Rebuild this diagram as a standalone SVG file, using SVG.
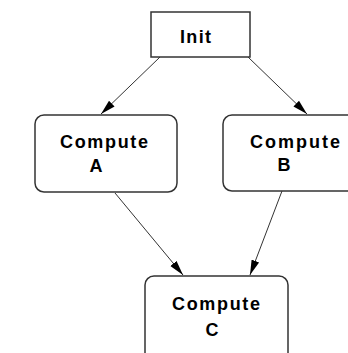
<svg xmlns="http://www.w3.org/2000/svg" width="348" height="353" viewBox="0 0 348 353">
<style>
.box{fill:#fff;stroke:#333;stroke-width:1.5}
.lbl{font-family:"Liberation Sans",Arial,sans-serif;font-weight:bold;font-size:18px;fill:#000}
.edge{stroke:#333;stroke-width:1;fill:none;marker-end:url(#ah)}
</style>
<defs>
<marker id="ah" markerUnits="userSpaceOnUse" markerWidth="15" markerHeight="10" viewBox="0 0 15 10" refX="15" refY="5" orient="auto">
<path d="M0,1 L15,5 L0,9 Z" fill="#000"/>
</marker>
</defs>
<rect width="348" height="353" fill="#fff"/>
<g id="connectors">
<line class="edge" x1="160" y1="57" x2="101" y2="114"/>
<line class="edge" x1="248" y1="57" x2="307" y2="114"/>
<line class="edge" x1="115" y1="193" x2="183" y2="275"/>
<line class="edge" x1="282" y1="191" x2="250" y2="275"/>
</g>
<g id="init">
<rect class="box" x="151" y="12" width="99" height="45"/>
<text class="lbl" x="180" y="43" textLength="31" lengthAdjust="spacing">Init</text>
</g>
<g id="computeA">
<rect class="box" x="35" y="115" width="142" height="77" rx="9"/>
<text class="lbl" x="60" y="148" textLength="88" lengthAdjust="spacing">Compute</text>
<text class="lbl" x="96" y="172" text-anchor="middle">A</text>
</g>
<g id="computeB">
<rect class="box" x="223" y="115" width="142" height="76" rx="9"/>
<text class="lbl" x="250" y="148" textLength="90" lengthAdjust="spacing">Compute</text>
<text class="lbl" x="284" y="171" text-anchor="middle">B</text>
</g>
<g id="computeC">
<rect class="box" x="145" y="276" width="143" height="90" rx="9"/>
<text class="lbl" x="172" y="310" textLength="88" lengthAdjust="spacing">Compute</text>
<text class="lbl" x="212" y="336" text-anchor="middle">C</text>
</g>
</svg>
